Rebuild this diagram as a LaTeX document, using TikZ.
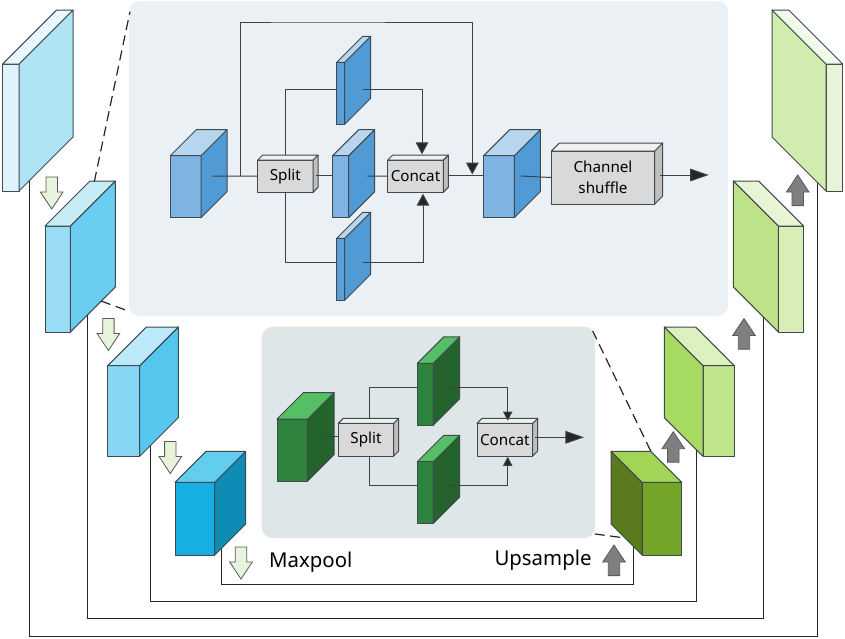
\documentclass[tikz,border=0pt]{standalone}
\usepackage{fontspec}
\setmainfont{Noto Sans}
\usetikzlibrary{arrows.meta}
% colours: F front, S side, T top
\definecolor{aF}{HTML}{DFF3FB}\definecolor{aS}{HTML}{AEE3F4}\definecolor{aT}{HTML}{EBF9FE}
\definecolor{bF}{HTML}{9ADCF6}\definecolor{bS}{HTML}{68CDEF}\definecolor{bT}{HTML}{C6ECF7}
\definecolor{cF}{HTML}{87D6F3}\definecolor{cS}{HTML}{55C7EE}\definecolor{cT}{HTML}{BCE9F9}
\definecolor{dF}{HTML}{17AFE3}\definecolor{dS}{HTML}{0F8CB6}\definecolor{dT}{HTML}{63CDEF}
\definecolor{eF}{HTML}{E7F4D8}\definecolor{eS}{HTML}{D2ECAF}\definecolor{eT}{HTML}{F3FBEA}
\definecolor{fF}{HTML}{D8EEB6}\definecolor{fS}{HTML}{BEE388}\definecolor{fT}{HTML}{E9F4D6}
\definecolor{gF}{HTML}{BFE48C}\definecolor{gS}{HTML}{A6DA60}\definecolor{gT}{HTML}{DCF1BF}
\definecolor{hF}{HTML}{74A528}\definecolor{hS}{HTML}{5A7C1E}\definecolor{hT}{HTML}{A2D455}
\definecolor{iF}{HTML}{7FB4E2}\definecolor{iS}{HTML}{509BD6}\definecolor{iT}{HTML}{B6D5EE}
\definecolor{jF}{HTML}{5A9FD8}\definecolor{jS}{HTML}{509BD6}\definecolor{jT}{HTML}{B6D5EE}
\definecolor{kF}{HTML}{2E843C}\definecolor{kS}{HTML}{24632C}\definecolor{kT}{HTML}{55BF65}
\definecolor{mF}{HTML}{D9D9D9}\definecolor{mS}{HTML}{BFBFBF}\definecolor{mT}{HTML}{F0F0F0}
\definecolor{panelblue}{HTML}{EBF0F5}
\definecolor{panelgreen}{HTML}{DEE6E8}
\definecolor{downfill}{HTML}{E8F3DB}
\definecolor{upfill}{HTML}{7F7F7F}
\definecolor{edge}{HTML}{3F4A4F}
\tikzset{
  face/.style={draw=edge,line width=1pt,line join=round},
  front/.style={face,inner sep=0pt,outer sep=0pt,anchor=north west,align=center,
    font=\fontsize{15.2}{21}\selectfont},
  panel/.style={rounded corners=11pt,draw=none},
  wire/.style={draw=black!75,line width=1pt},
  skipline/.style={draw=black!85,line width=1pt},
  head/.style={wire,-{Triangle[length=12pt,width=12.7pt,fill=black!85]}},
  smallhead/.style={wire,-{Triangle[length=9.2pt,width=9.4pt,fill=black!85]}},
  longhead/.style={wire,-{Triangle[length=18.7pt,width=12.7pt,fill=black!85]}},
  zoomline/.style={draw=black!85,line width=1.2pt,dash pattern=on 10pt off 5.5pt},
  blockdown/.style={draw=black!65,line width=0.8pt,fill=downfill,line join=miter},
  blockup/.style={draw=black!65,line width=0.8pt,fill=upfill,line join=miter},
  legend/.style={font=\fontsize{20.4}{24}\selectfont,inner sep=0pt,anchor=base west}
}
% [text]{name}{x}{y}{w}{h}{d}{scheme}: depth to the upper right
\newcommand{\cubeR}[8][]{%
  \node[front,fill=#8F,minimum width=#5pt,minimum height=#6pt] (#2) at (#3,#4) {#1};
  \draw[face,fill=#8S] (#2.north east) -- ++(#7,-#7) -- ++(0,#6) -- (#2.south east) -- cycle;
  \draw[face,fill=#8T] (#2.north west) -- ++(#7,-#7) -- ++(#5,0) -- (#2.north east) -- cycle;
}
% {name}{x}{y}{w}{h}{d}{scheme}: depth to the upper left
\newcommand{\cubeL}[7]{%
  \node[front,fill=#7F,minimum width=#4pt,minimum height=#5pt] (#1) at (#2,#3) {};
  \draw[face,fill=#7S] (#1.north west) -- ++(-#6,-#6) -- ++(0,#5) -- (#1.south west) -- cycle;
  \draw[face,fill=#7T] (#1.north west) -- ++(-#6,-#6) -- ++(#4,0) -- (#1.north east) -- cycle;
}
% {cx}{top}: block arrow pointing down
\newcommand{\arrowdown}[2]{%
  \draw[blockdown] (#1,#2) ++(-5.7,0) -- ++(11.4,0) -- ++(0,15) -- ++(5.6,0)
    -- ++(-11.3,17) -- ++(-11.3,-17) -- ++(5.6,0) -- cycle;
}
% {cx}{tip}: block arrow pointing up
\newcommand{\arrowup}[2]{%
  \draw[blockup] (#1,#2) -- ++(11.3,17) -- ++(-5.6,0) -- ++(0,13.6) -- ++(-11.4,0)
    -- ++(0,-13.6) -- ++(-5.6,0) -- cycle;
}
\begin{document}
\begin{tikzpicture}[x=1pt,y=-1pt]
\useasboundingbox (0,0) rectangle (845,638);
\fill[white] (0,0) rectangle (845,638);

% panels
\fill[panelblue,panel] (129,1) rectangle (728,316);
\fill[panelgreen,panel] (261.7,326.7) rectangle (595,538);

% skip connections (behind the cubes)
\coordinate (s1a) at (29.3,180);  \coordinate (s1m) at (400,636.7); \coordinate (s1b) at (817.3,180);
\coordinate (s2a) at (87.7,310);  \coordinate (s2m) at (400,618.3); \coordinate (s2b) at (763.3,310);
\coordinate (s3a) at (150.7,440); \coordinate (s3m) at (400,601.3); \coordinate (s3b) at (696.3,440);
\coordinate (s4a) at (221.7,540); \coordinate (s4m) at (400,584);   \coordinate (s4b) at (633.7,540);
\draw[skipline] (s1a) |- (s1m) -| (s1b);
\draw[skipline] (s2a) |- (s2m) -| (s2b);
\draw[skipline] (s3a) |- (s3m) -| (s3b);
\draw[skipline] (s4a) |- (s4m) -| (s4b);

% encoder cubes
\cubeR{enca}{2.7}{64}{16.3}{127}{54}{a}
\cubeR{encb}{45}{226}{25.3}{106}{45}{b}
\cubeR{encc}{107.7}{365.7}{32}{90.6}{38.7}{c}
\cubeR{encd}{175}{482.3}{39.7}{72.7}{31}{d}

% decoder cubes
\cubeL{deca}{826}{64}{16.7}{127}{54}{e}
\cubeL{decb}{778.3}{226}{25.4}{106}{45}{f}
\cubeL{decc}{703}{365.7}{31.3}{90.6}{38.7}{g}
\cubeL{decd}{642}{482.3}{39.7}{72.7}{31}{h}

% upper panel blocks
\cubeR{bin}{170.3}{155.7}{30.7}{62}{26}{i}
\cubeR{btop}{336.7}{62.3}{8}{62}{26}{j}
\cubeR{bmid}{332.7}{155.7}{16}{62}{26}{i}
\cubeR{bbot}{336.7}{238.3}{8}{62}{26}{j}
\cubeR{bout}{483.7}{155.7}{30.6}{62}{26}{i}
\cubeR[Split]{bsplit}{257.7}{160}{55.3}{32.3}{5}{m}
\cubeR[Concat]{bconcat}{387.7}{160}{55.6}{32.3}{5}{m}
\cubeR[Channel\\shuffle]{shuffle}{551.3}{151}{103.4}{53}{8}{m}

% upper panel connectors
\coordinate (binc) at (212.3,176);
\coordinate (bjun) at (240.3,176);
\coordinate (bbyp) at (300,22);
\coordinate (btip) at (472.3,174.5);
\coordinate (btopin) at (336.7,89.3);
\coordinate (btopc) at (362.7,89.3);
\coordinate (btopm) at (422,154.3);
\coordinate (bbotin) at (336.7,262);
\coordinate (bbotc) at (362.7,262);
\coordinate (bbotm) at (423,193.7);
\coordinate (bmidc) at (367.3,176);
\coordinate (boutc) at (520.7,176);
\coordinate (bsout) at (660,175);
\coordinate (bstip) at (708.7,175);
\coordinate (bcout) at (448.7,175);
\coordinate (bsplitr) at (316,175);
\coordinate (bmidin) at (332.7,175);
\coordinate (boutin) at (483.7,175);
\draw[wire] (binc) -- (bsplit.west);
\draw[head] (bjun) |- (bbyp) -| (btip);
\draw[wire] ([yshift=5pt]bsplit.north) |- (btopin);
\draw[wire] (bsplit.south) |- (bbotin);
\draw[wire] (bsplitr) -- (bmidin);
\draw[head] (btopc) -| (btopm);
\draw[head] (bbotc) -| (bbotm);
\draw[wire] (bmidc) -- (bconcat.west);
\draw[wire] (bcout) -- (boutin);
\draw[wire] (boutc) -- (shuffle.west);
\draw[longhead] (bsout) -- (bstip);

% lower panel blocks
\cubeR{gin}{277}{419}{30.7}{62}{26.5}{k}
\cubeR{gtop}{417.3}{363.3}{16}{61.7}{26.4}{k}
\cubeR{gbot}{417.3}{461.7}{16}{61.6}{26.4}{k}
\cubeR[Split]{gsplit}{338.3}{423.3}{55.4}{32.7}{5}{m}
\cubeR[Concat]{gconcat}{477}{423.3}{55.7}{32.7}{5}{m}

% lower panel connectors
\coordinate (ginc) at (323,436.7);
\coordinate (gtopin) at (417.3,387.7);
\coordinate (gbotin) at (417.3,485.7);
\coordinate (gtopc) at (449.3,387.7);
\coordinate (gtopm) at (507.7,420.7);
\coordinate (gbotc) at (448.3,485);
\coordinate (gbotm) at (507.7,456.7);
\coordinate (gcout) at (535,437.3);
\coordinate (gctip) at (584,437.3);
\draw[wire] (ginc) -- (gsplit.west |- ginc);
\draw[wire] ([xshift=3.5pt,yshift=5pt]gsplit.north) |- (gtopin);
\draw[wire] ([xshift=3.5pt]gsplit.south) |- (gbotin);
\draw[smallhead] (gtopc) -| (gtopm);
\draw[smallhead] (gbotc) -| (gbotm);
\draw[longhead] (gcout) -- (gctip);

% zoom guides
\coordinate (zaa) at (94.3,181.7); \coordinate (zab) at (130,11.7);
\coordinate (zba) at (101,301);    \coordinate (zbb) at (128.3,311);
\coordinate (zca) at (650.7,451);  \coordinate (zcb) at (592.7,331);
\coordinate (zda) at (620,537.3);  \coordinate (zdb) at (590,533.3);
\draw[zoomline] (zaa) -- (zab);
\draw[zoomline] (zba) -- (zbb);
\draw[zoomline] (zca) -- (zcb);
\draw[zoomline] (zda) -- (zdb);

% block arrows
\arrowdown{51.7}{177}
\arrowdown{108.4}{318.5}
\arrowdown{170.3}{441.5}
\arrowdown{241}{547}
\arrowup{797.7}{175}
\arrowup{744}{318.5}
\arrowup{673.3}{431.7}
\arrowup{614}{545}

% legend
\node[legend] (maxpool) at (269,567) {Maxpool};
\node[legend] (upsample) at (494.3,565.7) {Upsample};
\end{tikzpicture}
\end{document}
